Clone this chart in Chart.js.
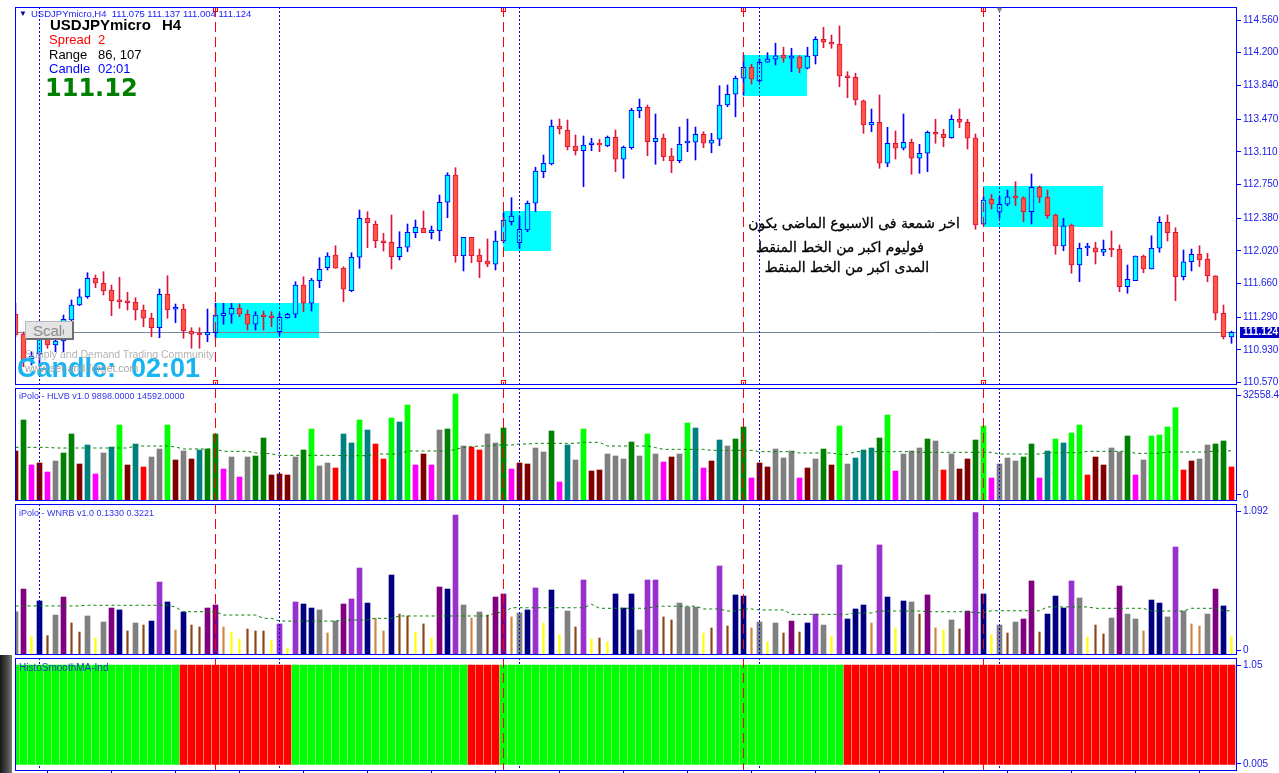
<!DOCTYPE html>
<html>
<head>
<meta charset="utf-8">
<title>USDJPYmicro H4</title>
<script src="https://cdn.jsdelivr.net/npm/chart.js@4.4.1/dist/chart.umd.min.js"></script>
<style>
html, body { margin: 0; padding: 0; background: #fff; }
body { position: relative; width: 1279px; height: 773px; overflow: hidden; font-family: "Liberation Sans", Arial, sans-serif; }
canvas { position: absolute; left: 0; }
.t { position: absolute; white-space: nowrap; line-height: 1; transform: translateY(-50%); }
.ar { font-family: "DejaVu Sans", sans-serif; font-size: 14px; color: #000; transform: translate(-50%, -50%); -webkit-text-stroke: 0.3px #000; }
#scaleBtn { position: absolute; left: 25px; top: 321px; width: 49px; height: 19px; box-sizing: border-box; background: #e4e4e4;
  border: 1px solid #b8b8b8; border-right: 2px solid #6e6e6e; border-bottom: 2px solid #6e6e6e; }
#scaleBtn span { position: absolute; left: 7px; top: 1px; width: 31px; overflow: hidden; font-size: 15px; color: #8c8c8c; line-height: 15px; }
#edge { position: absolute; left: 0; top: 655px; width: 12px; height: 118px; background: linear-gradient(to right, #161616, #4a4a4a 60%, #7a7a7a); }
</style>
</head>
<body>
<canvas id="price" width="1279" height="386" style="top:0"></canvas>
<canvas id="hlvb" width="1279" height="117" style="top:386px"></canvas>
<canvas id="wnrb" width="1279" height="154" style="top:503px"></canvas>
<canvas id="histo" width="1279" height="116" style="top:657px"></canvas>
<div id="edge"></div>

<div class="t" style="left:19px;top:14px;font-size:8px;color:#0000a0">&#9660;</div>
<div class="t" style="left:31px;top:14px;font-size:9.5px;color:#2020ff">USDJPYmicro,H4&nbsp; 111.075 111.137 111.004 111.124</div>
<div class="t" style="left:995px;top:10px;font-size:9px;color:#808080">&#9660;</div>
<div class="t" style="left:50px;top:24px;font-size:15px;font-weight:bold;color:#000">USDJPYmicro</div>
<div class="t" style="left:162px;top:24px;font-size:15px;font-weight:bold;color:#000">H4</div>
<div class="t" style="left:49px;top:39px;font-size:13px;color:#ff0000">Spread</div>
<div class="t" style="left:98px;top:39px;font-size:13px;color:#ff0000">2</div>
<div class="t" style="left:49px;top:54px;font-size:13px;color:#000">Range</div>
<div class="t" style="left:98px;top:54px;font-size:13px;color:#000">86, 107</div>
<div class="t" style="left:49px;top:68px;font-size:13px;color:#0000ff">Candle</div>
<div class="t" style="left:98px;top:68px;font-size:13px;color:#0000ff">02:01</div>
<div class="t" style="left:45px;top:88px;font-size:24px;font-weight:bold;color:#008000;font-family:'DejaVu Sans',sans-serif">111.12</div>

<div id="scaleBtn"><span>Scale</span></div>
<div class="t" style="left:17px;top:368px;font-size:27px;font-weight:bold;color:#18b4f2">Candle:&nbsp; 02:01</div>
<div class="t" style="left:25px;top:354px;font-size:10.5px;color:#b4b4b4">Supply and Demand Trading Community</div>
<div class="t" style="left:25px;top:368px;font-size:10.5px;color:#a4a4a4">www.set-and-forget.com</div>

<div class="t ar" dir="rtl" style="left:854px;top:223px">اخر شمعة فى الاسبوع الماضى يكون</div>
<div class="t ar" dir="rtl" style="left:840px;top:247px">فوليوم اكبر من الخط المنقط</div>
<div class="t ar" dir="rtl" style="left:847px;top:267px">المدى اكبر من الخط المنقط</div>

<div class="t" style="left:19px;top:396px;font-size:9px;color:#3434e8">iPolo - HLVB v1.0 9898.0000 14592.0000</div>
<div class="t" style="left:19px;top:513px;font-size:9px;color:#3434e8">iPolo - WNRB v1.0 0.1330 0.3221</div>
<div class="t" style="left:19px;top:668px;font-size:10px;color:#1a3cc0">HistoSmoothMA-Ind</div>

<script>
// first visible bar is one to the left of the frame, bars run -1 .. 151
const firstBar = -1

const opens = [
  111.326, 111.103, 110.828, 110.883, 111.070, 110.985, 111.029, 111.260, 111.425, 111.516,
  111.719, 111.664, 111.590, 111.472, 111.461, 111.455, 111.370, 111.279, 111.175, 111.543,
  111.378, 111.381, 111.139, 111.114, 111.095, 111.120, 111.307, 111.323, 111.389, 111.323,
  111.213, 111.307, 111.296, 111.131, 111.285, 111.323, 111.645, 111.444, 111.692, 111.835,
  111.975, 111.829, 111.582, 111.950, 112.379, 112.313, 112.121, 112.115, 111.956, 112.060,
  112.220, 112.269, 112.220, 112.242, 112.555, 112.855, 111.967, 112.170, 111.975, 111.909,
  111.873, 112.129, 112.341, 112.110, 112.250, 112.544, 112.891, 112.976, 113.394, 113.347,
  113.174, 113.122, 113.188, 113.196, 113.174, 113.270, 113.028, 113.155, 113.562, 113.600,
  113.221, 113.259, 113.064, 113.012, 113.207, 113.215, 113.303, 113.204, 113.248, 113.625,
  113.743, 113.919, 114.040, 113.889, 114.095, 114.128, 114.175, 114.139, 114.156, 114.029,
  114.164, 114.348, 114.315, 114.293, 113.944, 113.930, 113.672, 113.405, 113.435, 112.984,
  113.204, 113.149, 113.215, 113.039, 113.094, 113.325, 113.303, 113.265, 113.468, 113.435,
  113.265, 112.313, 112.591, 112.445, 112.533, 112.624, 112.605, 112.451, 112.720, 112.610,
  112.415, 112.074, 112.305, 111.865, 112.052, 112.055, 112.005, 112.038, 112.038, 111.626,
  111.692, 111.964, 111.821, 112.049, 112.335, 112.225, 111.736, 111.901, 111.983, 111.931,
  111.747, 111.334, 111.075
]
const highs = [
  111.447, 111.128, 110.911, 111.150, 111.095, 111.213, 111.315, 111.480, 111.601, 111.780,
  111.755, 111.791, 111.645, 111.730, 111.565, 111.505, 111.425, 111.334, 111.601, 111.747,
  111.436, 111.433, 111.175, 111.175, 111.381, 111.444, 111.444, 111.444, 111.436, 111.370,
  111.351, 111.359, 111.351, 111.334, 111.334, 111.681, 111.736, 111.719, 111.945, 112.000,
  112.077, 111.846, 112.000, 112.470, 112.451, 112.349, 112.214, 112.415, 112.231, 112.316,
  112.360, 112.459, 112.294, 112.635, 112.880, 112.935, 112.170, 112.170, 112.041, 112.151,
  112.239, 112.440, 112.605, 112.396, 112.569, 112.940, 113.075, 113.460, 113.471, 113.460,
  113.295, 113.284, 113.259, 113.248, 113.284, 113.350, 113.174, 113.589, 113.691, 113.625,
  113.526, 113.306, 113.149, 113.383, 113.471, 113.383, 113.331, 113.314, 113.837, 113.845,
  113.944, 114.175, 114.073, 114.131, 114.200, 114.304, 114.260, 114.249, 114.167, 114.260,
  114.376, 114.480, 114.395, 114.494, 113.991, 113.974, 113.680, 113.581, 113.735, 113.380,
  113.339, 113.526, 113.251, 113.193, 113.339, 113.468, 113.358, 113.515, 113.581, 113.468,
  113.306, 112.616, 112.643, 112.616, 112.690, 112.781, 112.616, 112.866, 112.734, 112.690,
  112.426, 112.379, 112.316, 112.104, 112.104, 112.115, 112.140, 112.239, 112.085, 111.865,
  111.964, 111.975, 112.187, 112.396, 112.415, 112.275, 112.030, 112.041, 112.077, 111.994,
  111.747, 111.425, 111.137
]
const lows = [
  111.073, 110.746, 110.765, 110.746, 110.949, 110.911, 110.911, 111.224, 111.417, 111.499,
  111.615, 111.535, 111.307, 111.389, 111.370, 111.260, 111.186, 111.076, 111.065, 111.279,
  111.230, 111.059, 110.949, 110.949, 111.021, 111.059, 111.213, 111.224, 111.296, 111.150,
  111.150, 111.150, 111.186, 111.095, 111.279, 111.285, 111.351, 111.359, 111.615, 111.810,
  111.829, 111.461, 111.571, 111.829, 112.055, 112.055, 112.019, 111.821, 111.920, 112.011,
  112.165, 112.220, 112.151, 112.132, 112.385, 111.895, 111.799, 111.890, 111.725, 111.846,
  111.810, 112.110, 112.305, 112.049, 112.231, 112.451, 112.825, 112.965, 113.306, 113.130,
  113.075, 112.726, 113.122, 113.111, 113.166, 112.891, 112.819, 113.138, 113.485, 113.067,
  112.973, 113.012, 112.880, 112.990, 113.111, 113.020, 113.155, 113.100, 113.177, 113.606,
  113.496, 113.735, 113.856, 113.878, 114.095, 114.065, 114.095, 113.991, 113.980, 114.021,
  114.076, 114.255, 114.249, 113.826, 113.705, 113.625, 113.314, 113.331, 112.929, 112.946,
  113.031, 113.130, 112.863, 112.874, 112.891, 113.204, 113.166, 113.259, 113.375, 113.141,
  112.258, 112.305, 112.481, 112.379, 112.517, 112.517, 112.341, 112.316, 112.550, 112.379,
  111.983, 112.022, 111.774, 111.681, 111.967, 111.876, 111.967, 111.956, 111.571, 111.554,
  111.692, 111.780, 111.821, 112.005, 112.129, 111.472, 111.700, 111.799, 111.846, 111.681,
  111.260, 111.051, 111.004
]
const closes = [
  111.095, 110.820, 110.864, 111.059, 110.985, 111.029, 111.268, 111.425, 111.516, 111.719,
  111.664, 111.582, 111.472, 111.461, 111.450, 111.370, 111.279, 111.175, 111.543, 111.370,
  111.389, 111.139, 111.103, 111.095, 111.125, 111.315, 111.334, 111.389, 111.323, 111.213,
  111.315, 111.296, 111.285, 111.290, 111.323, 111.645, 111.444, 111.700, 111.818, 111.964,
  111.829, 111.598, 111.950, 112.379, 112.330, 112.132, 112.110, 111.956, 112.060, 112.225,
  112.280, 112.220, 112.250, 112.555, 112.855, 111.967, 112.170, 111.967, 111.901, 111.873,
  112.129, 112.360, 112.404, 112.258, 112.544, 112.899, 112.984, 113.394, 113.361, 113.166,
  113.122, 113.185, 113.196, 113.185, 113.270, 113.028, 113.160, 113.567, 113.600, 113.221,
  113.259, 113.056, 113.012, 113.193, 113.210, 113.303, 113.204, 113.240, 113.625, 113.743,
  113.919, 114.040, 113.911, 114.095, 114.131, 114.167, 114.139, 114.164, 114.029, 114.164,
  114.348, 114.315, 114.293, 113.944, 113.925, 113.680, 113.405, 113.435, 112.984, 113.204,
  113.149, 113.215, 113.039, 113.094, 113.325, 113.303, 113.265, 113.468, 113.435, 113.259,
  112.305, 112.580, 112.533, 112.533, 112.616, 112.599, 112.451, 112.720, 112.610, 112.407,
  112.074, 112.297, 111.865, 112.049, 112.055, 112.005, 112.038, 112.030, 111.626, 111.708,
  111.964, 111.821, 112.049, 112.335, 112.220, 111.736, 111.901, 111.983, 111.920, 111.747,
  111.334, 111.076, 111.124
]

const hlvb = [
  14535, 23547, 10465, 11047, 8430, 11628, 13954, 19477, 10756, 16279,
  7849, 13954, 15698, 22093, 10465, 16570, 9884, 12791, 15116, 22093,
  11919, 14535, 12209, 14826, 15116, 19477, 9302, 12791, 6977, 12791,
  13082, 18314, 7558, 7849, 7558, 12791, 14826, 20930, 10175, 11047,
  9593, 19477, 16861, 23547, 20640, 16570, 12209, 24128, 22965, 27907,
  10465, 13663, 10465, 20640, 20930, 31105, 15989, 15698, 14826, 19477,
  16861, 21221, 9302, 11047, 10756, 15407, 14244, 20349, 5523, 16279,
  11919, 20930, 8721, 9012, 13663, 13082, 12209, 17151, 13082, 19477,
  13663, 11337, 12791, 13663, 22675, 21221, 9593, 11628, 17733, 15989,
  18023, 21512, 6686, 11047, 9884, 15116, 12500, 14535, 6686, 9593,
  12209, 15116, 10465, 21802, 10756, 12500, 14826, 15407, 18314, 25000,
  8721, 13663, 14535, 15407, 18023, 17442, 9012, 13663, 9302, 12209,
  17733, 21802, 6686, 10756, 12500, 11628, 12791, 16570, 6686, 14535,
  18023, 16861, 19768, 22093, 7558, 12791, 10465, 15407, 14244, 18896,
  7558, 11919, 18896, 19186, 21512, 27122, 9012, 11628, 12209, 16279,
  16570, 17442, 9898
]
// R maroon, G green, M magenta, Y gray, T teal, L lime, E red
const hlvbKind = ('RGMRMYGGRT' + 'MYTLRTEYYL' + 'RYRTGGMYMY' + 'GGRRRYGLYY' + 'ETTLTEELTL' +
  'MRMYGLYEEY' + 'YGMRRYYGMT' + 'YLRRYYYGYL' + 'YMRYLTMRTY' + 'GGMRRYYYMR' +
  'YGRLYTTTGL' + 'MYYYGYEYRR' + 'GLMYYYGGMT' + 'LTLLERRYYG' + 'MYLLLLERYY' + 'GGE').split('')
const hlvbAvg = [
  15600, 15600, 15600, 15600, 15600, 15407, 15407, 15407, 15407, 15407,
  15407, 15407, 15407, 15407, 15407, 15989, 15989, 15989, 15989, 15989,
  15698, 15116, 15116, 15116, 15116, 15116, 14438, 14438, 14438, 14438,
  13954, 13954, 13663, 13276, 13276, 13276, 13276, 13276, 13276, 13276,
  13276, 13179, 13179, 13179, 13179, 13663, 13663, 13663, 13663, 14535,
  14535, 14535, 14535, 14535, 14535, 15019, 15600, 15800, 15989, 15989,
  16279, 16279, 16279, 16570, 16570, 16764, 16764, 16764, 16764, 16764,
  16764, 17055, 17055, 17055, 15989, 15989, 15989, 15989, 15989, 15989,
  15504, 15019, 15019, 15019, 15019, 15019, 15019, 14729, 14729, 14729,
  14729, 14729, 14729, 14341, 14341, 14341, 14341, 14341, 13954, 13954,
  13954, 13954, 13954, 13566, 13566, 14341, 14341, 14341, 14341, 14341,
  14341, 14341, 14341, 14147, 14147, 14147, 14147, 14147, 14147, 14147,
  14147, 14147, 14147, 13663, 13663, 13663, 13663, 13663, 13663, 14051,
  14051, 14051, 14051, 14051, 14438, 14438, 14438, 14438, 14438, 14438,
  13857, 13857, 13857, 13857, 14244, 14244, 14244, 14244, 14244, 14244,
  14592, 14592, 14592
]

const wnrb = [
  0.315, 0.480, 0.133, 0.393, 0.141, 0.291, 0.422, 0.233, 0.167, 0.284,
  0.124, 0.240, 0.342, 0.328, 0.175, 0.233, 0.218, 0.247, 0.531, 0.386,
  0.182, 0.313, 0.218, 0.204, 0.342, 0.364, 0.204, 0.167, 0.116, 0.189,
  0.175, 0.175, 0.109, 0.226, 0.051, 0.386, 0.371, 0.342, 0.328, 0.160,
  0.247, 0.371, 0.408, 0.633, 0.378, 0.269, 0.175, 0.582, 0.298, 0.284,
  0.167, 0.226, 0.124, 0.495, 0.480, 1.019, 0.364, 0.269, 0.313, 0.291,
  0.422, 0.444, 0.277, 0.306, 0.328, 0.488, 0.233, 0.473, 0.146, 0.320,
  0.204, 0.546, 0.116, 0.124, 0.095, 0.444, 0.342, 0.444, 0.182, 0.546,
  0.546, 0.277, 0.255, 0.378, 0.349, 0.349, 0.160, 0.197, 0.648, 0.211,
  0.437, 0.429, 0.197, 0.240, 0.095, 0.233, 0.160, 0.247, 0.167, 0.233,
  0.298, 0.218, 0.138, 0.655, 0.262, 0.335, 0.364, 0.233, 0.801, 0.422,
  0.197, 0.393, 0.386, 0.298, 0.437, 0.197, 0.182, 0.255, 0.189, 0.320,
  1.036, 0.444, 0.146, 0.218, 0.160, 0.240, 0.262, 0.539, 0.167, 0.298,
  0.429, 0.342, 0.539, 0.415, 0.131, 0.218, 0.153, 0.269, 0.502, 0.298,
  0.262, 0.175, 0.400, 0.378, 0.277, 0.786, 0.320, 0.226, 0.211, 0.298,
  0.480, 0.357, 0.133
]
// P purple, N navy, O orchid, Y gray (wide) / W yellow, B brown, T tan (thin)
const wnrbKind = ('YPWNBYPBBY' + 'WYPNBYBNON' + 'TNBBPPTWWB' + 'BBWOWONNYT' + 'YPOONTTNBB' +
  'WBWPNOYTYB' + 'PPTYNOWNWY' + 'BOWBWNNNYO' + 'OBBYYYWBOB' + 'NNTYWYBPBN' +
  'OYWONNNTON' + 'WNYBPTWYBP' + 'ONWYBYPPBN' + 'NNOYWBBYPY' + 'YTNNYOYTTY' + 'PNW').split('')
const wnrbAvg = [
  0.357, 0.357, 0.357, 0.357, 0.357, 0.357, 0.357, 0.357, 0.357, 0.362,
  0.362, 0.362, 0.362, 0.362, 0.362, 0.362, 0.362, 0.362, 0.362, 0.362,
  0.349, 0.315, 0.315, 0.315, 0.315, 0.315, 0.291, 0.291, 0.291, 0.291,
  0.291, 0.267, 0.267, 0.247, 0.247, 0.247, 0.247, 0.247, 0.247, 0.247,
  0.247, 0.255, 0.255, 0.255, 0.255, 0.267, 0.267, 0.267, 0.284, 0.284,
  0.284, 0.284, 0.284, 0.284, 0.284, 0.284, 0.284, 0.284, 0.284, 0.284,
  0.308, 0.308, 0.344, 0.344, 0.344, 0.344, 0.344, 0.344, 0.344, 0.344,
  0.344, 0.344, 0.369, 0.340, 0.340, 0.340, 0.340, 0.340, 0.340, 0.340,
  0.355, 0.355, 0.355, 0.355, 0.355, 0.355, 0.335, 0.335, 0.335, 0.320,
  0.320, 0.335, 0.335, 0.328, 0.328, 0.328, 0.328, 0.296, 0.296, 0.296,
  0.296, 0.296, 0.296, 0.296, 0.296, 0.306, 0.306, 0.306, 0.320, 0.320,
  0.320, 0.320, 0.320, 0.320, 0.315, 0.315, 0.315, 0.315, 0.315, 0.315,
  0.308, 0.308, 0.322, 0.322, 0.322, 0.322, 0.322, 0.322, 0.322, 0.350,
  0.350, 0.350, 0.350, 0.350, 0.350, 0.340, 0.340, 0.340, 0.340, 0.340,
  0.340, 0.340, 0.320, 0.320, 0.320, 0.320, 0.320, 0.340, 0.340, 0.340,
  0.340, 0.322, 0.322
]

// U rising, D falling
const histoDir = ('UUUUUUUUUU' + 'UUUUUUUUUU' + 'UDDDDDDDDD' + 'DDDDDUUUUU' + 'UUUUUUUUUU' +
  'UUUUUUUDDD' + 'DUUUUUUUUU' + 'UUUUUUUUUU' + 'UUUUUUUUUU' + 'UUUUUUUUUU' +
  'UUUUDDDDDD' + 'DDDDDDDDDD' + 'DDDDDDDDDD' + 'DDDDDDDDDD' + 'DDDDDDDDDD' + 'DDD').split('')

const priceTicks = [114.56, 114.2, 113.84, 113.47, 113.11, 112.75, 112.38, 112.02, 111.66, 111.29, 110.93, 110.57]
const lastPrice = 111.124
const zoneFrom = [24, 60, 90, 120]
const zoneTo = [37, 66, 98, 135]
const zoneHigh = [111.45, 112.459, 114.175, 112.734]
const zoneLow = [111.065, 112.022, 113.727, 112.286]
const weekBars = [2, 32, 62, 92, 122]
const markBars = [24, 60, 90, 120]

const X_MIN = -1.0625, X_MAX = 151.6875
const blue = '#0000FF'
const labelBlue = '#1818E8'
const tickFont = { family: 'Liberation Sans', size: 10 }
const hlvbColors = { R: '#800000', G: '#008000', M: '#FF00FF', Y: '#808080', T: '#008080', L: '#00FF00', E: '#FF0000' }
const wnrbColors = { P: '#800080', N: '#000080', O: '#9932CC', Y: '#808080', W: '#FFFF00', B: '#8B4513', T: '#CD853F' }

const bars = opens.map(function (v, i) { return firstBar + i })
const up = opens.map(function (o, i) { return closes[i] >= o })

function xHidden() {
  return { type: 'linear', min: X_MIN, max: X_MAX, display: false, offset: false }
}

function yRight(min, max, tickVals, labels) {
  return {
    position: 'right', min: min, max: max,
    afterFit: function (s) { s.width = 42; s.paddingTop = 0; s.paddingBottom = 0 },
    afterBuildTicks: function (s) { s.ticks = tickVals.map(function (v) { return { value: v } }) },
    ticks: { autoSkip: false, padding: 2, color: labelBlue, font: tickFont,
      callback: function (v, i) { return labels[i] } },
    grid: { drawOnChartArea: false, tickLength: 4, color: blue },
    border: { display: false }
  }
}

function baseOptions(top, bottom, scales) {
  return {
    responsive: false, animation: false, devicePixelRatio: 1,
    layout: { autoPadding: false, padding: { left: 15, right: 0, top: top, bottom: bottom } },
    plugins: { legend: { display: false }, tooltip: { enabled: false } },
    scales: scales
  }
}

function barX(chart, b) { return Math.floor(chart.scales.x.getPixelForValue(b)) + 0.5 }

function drawLines(chart, list, color, dash, caps) {
  const c = chart.ctx, a = chart.chartArea
  c.save()
  c.strokeStyle = color
  c.lineWidth = 1
  list.forEach(function (b) {
    const x = barX(chart, b)
    c.setLineDash(dash)
    c.beginPath(); c.moveTo(x, a.top); c.lineTo(x, a.bottom); c.stroke()
    if (caps) {
      c.setLineDash([])
      c.strokeRect(x - 2, a.top + 0.5, 4, 4)
      c.strokeRect(x - 2, a.bottom - 4.5, 4, 4)
    }
  })
  c.restore()
}

function drawFrame(chart) {
  const c = chart.ctx, a = chart.chartArea
  c.save()
  c.strokeStyle = blue
  c.lineWidth = 1
  c.strokeRect(a.left + 0.5, a.top + 0.5, a.right - a.left - 1, a.bottom - a.top - 1)
  c.restore()
}

const pricePlugin = {
  id: 'priceExtras',
  beforeDatasetsDraw: function (chart) {
    const c = chart.ctx, x = chart.scales.x, y = chart.scales.y, a = chart.chartArea
    c.save()
    c.fillStyle = '#00FFFF'
    zoneFrom.forEach(function (f, i) {
      const l = Math.floor(x.getPixelForValue(f)), r = Math.floor(x.getPixelForValue(zoneTo[i]))
      const t = Math.round(y.getPixelForValue(zoneHigh[i])), b = Math.round(y.getPixelForValue(zoneLow[i]))
      c.fillRect(l, t, r - l, b - t)
    })
    const py = Math.round(y.getPixelForValue(lastPrice)) + 0.5
    c.strokeStyle = '#778899'
    c.beginPath(); c.moveTo(a.left, py); c.lineTo(a.right, py); c.stroke()
    c.restore()
  },
  afterDatasetsDraw: function (chart) {
    drawLines(chart, weekBars, blue, [2, 2], false)
    drawLines(chart, markBars, '#FF0000', [10, 5], true)
  },
  afterDraw: function (chart) {
    drawFrame(chart)
    const c = chart.ctx, a = chart.chartArea
    const py = Math.round(chart.scales.y.getPixelForValue(lastPrice))
    c.save()
    c.fillStyle = '#0000C8'
    c.fillRect(a.right + 3, py - 5, 42, 11)
    c.fillStyle = '#FFFFFF'
    c.font = 'bold 10px "Liberation Sans"'
    c.textBaseline = 'middle'
    c.fillText(lastPrice.toFixed(3), a.right + 6, py + 0.5)
    c.restore()
  }
}

const subPlugin = {
  id: 'subExtras',
  afterDatasetsDraw: function (chart) {
    drawLines(chart, weekBars, blue, [2, 2], false)
    drawLines(chart, markBars, '#FF0000', [10, 5], false)
  },
  afterDraw: drawFrame
}

const histoPlugin = {
  id: 'histoExtras',
  beforeDatasetsDraw: function (chart) { drawLines(chart, weekBars, blue, [2, 2], false) },
  afterDatasetsDraw: function (chart) { drawLines(chart, markBars, '#FF0000', [10, 5], false) },
  afterDraw: drawFrame
}

new Chart(document.getElementById('price'), {
  type: 'bar',
  data: {
    datasets: [
      {
        data: bars.map(function (b, i) { return { x: b, y: [opens[i], closes[i]] } }),
        backgroundColor: up.map(function (u) { return u ? '#00FFFF' : '#FF5747' }),
        borderColor: up.map(function (u) { return u ? '#0000FF' : '#DC143C' }),
        borderWidth: 1, borderSkipped: false, barThickness: 5, minBarLength: 2, grouped: false, order: 0
      },
      {
        data: bars.map(function (b, i) { return { x: b, y: [lows[i], highs[i]] } }),
        backgroundColor: up.map(function (u) { return u ? '#0000FF' : '#DC143C' }),
        borderWidth: 0, barThickness: 1, grouped: false, order: 1
      }
    ]
  },
  options: baseOptions(7, 1, {
    x: xHidden(),
    y: yRight(110.545, 114.703, priceTicks, priceTicks.map(function (v) { return v.toFixed(3) }))
  }),
  plugins: [pricePlugin]
})

new Chart(document.getElementById('hlvb'), {
  type: 'bar',
  data: {
    datasets: [
      {
        type: 'line', data: bars.map(function (b, i) { return { x: b, y: hlvbAvg[i] } }),
        borderColor: '#008000', borderWidth: 1, borderDash: [3, 3], pointRadius: 0, fill: false, order: 0
      },
      {
        data: bars.map(function (b, i) { return { x: b, y: hlvb[i] } }),
        backgroundColor: hlvbKind.map(function (k) { return hlvbColors[k] }),
        barThickness: 5, grouped: false, order: 1
      }
    ]
  },
  options: baseOptions(2, 2, {
    x: xHidden(),
    y: yRight(0, 32849, [1750, 30800], ['0', '32558.4'])
  }),
  plugins: [subPlugin]
})

const wide = [], thin = []
bars.forEach(function (b, i) {
  const k = wnrbKind[i]
  const p = { x: b, y: wnrb[i], c: wnrbColors[k] }
  if ('WBT'.indexOf(k) >= 0) thin.push(p); else wide.push(p)
})

new Chart(document.getElementById('wnrb'), {
  type: 'bar',
  data: {
    datasets: [
      {
        type: 'line', data: bars.map(function (b, i) { return { x: b, y: wnrbAvg[i] } }),
        borderColor: '#008000', borderWidth: 1, borderDash: [3, 3], pointRadius: 0, fill: false, order: 0
      },
      { data: wide, backgroundColor: wide.map(function (p) { return p.c }), barThickness: 5, grouped: false, order: 1 },
      { data: thin, backgroundColor: thin.map(function (p) { return p.c }), barThickness: 1.5, grouped: false, order: 2 }
    ]
  },
  options: baseOptions(1, 2, {
    x: xHidden(),
    y: yRight(0, 1.099, [0.036, 1.048], ['0', '1.092'])
  }),
  plugins: [subPlugin]
})

const timeTicks = []
for (let v = 7; v <= 151; v += 8) timeTicks.push(v)

new Chart(document.getElementById('histo'), {
  type: 'bar',
  data: {
    datasets: [
      {
        data: bars.map(function (b) { return { x: b, y: 1 } }),
        backgroundColor: histoDir.map(function (d) { return d === 'U' ? '#00FF00' : '#FF0000' }),
        barThickness: 7, grouped: false
      }
    ]
  },
  options: baseOptions(1, 0, {
    x: {
      type: 'linear', min: X_MIN, max: X_MAX, offset: false,
      afterFit: function (s) { s.height = 2; s.paddingLeft = 0; s.paddingRight = 0 },
      afterBuildTicks: function (s) { s.ticks = timeTicks.map(function (v) { return { value: v } }) },
      ticks: { display: false },
      grid: { drawOnChartArea: false, tickLength: 2, color: blue },
      border: { display: false }
    },
    y: yRight(-0.0675, 1.0705, [0.003, 0.993], ['0.005', '1.05'])
  }),
  plugins: [histoPlugin]
})
</script>
</body>
</html>
